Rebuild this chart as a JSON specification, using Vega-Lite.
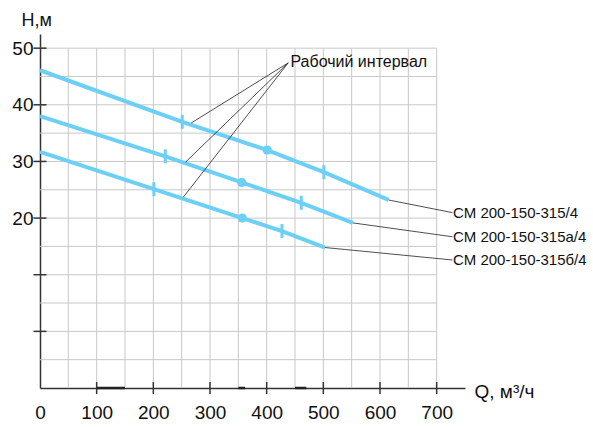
{
  "$schema": "https://vega.github.io/schema/vega-lite/v6.json",
  "width": 425,
  "height": 354,
  "autosize": {"type": "none"},
  "padding": {"left": 40, "top": 34, "right": 128, "bottom": 39},
  "background": "white",
  "config": {"view": {"stroke": null}, "font": "Liberation Sans"},
  "resolve": {"axis": {"x": "independent", "y": "independent"}},
  "datasets": {
    "curves": [
      {"s": "СМ 200-150-315/4", "q": 0, "h": 46.1},
      {"s": "СМ 200-150-315/4", "q": 251, "h": 37.0},
      {"s": "СМ 200-150-315/4", "q": 401, "h": 32.0},
      {"s": "СМ 200-150-315/4", "q": 501, "h": 28.1},
      {"s": "СМ 200-150-315/4", "q": 615, "h": 23.2},
      {"s": "СМ 200-150-315а/4", "q": 0, "h": 38.0},
      {"s": "СМ 200-150-315а/4", "q": 221, "h": 30.9},
      {"s": "СМ 200-150-315а/4", "q": 356, "h": 26.3},
      {"s": "СМ 200-150-315а/4", "q": 461, "h": 22.7},
      {"s": "СМ 200-150-315а/4", "q": 552, "h": 19.15},
      {"s": "СМ 200-150-315б/4", "q": 0, "h": 31.7},
      {"s": "СМ 200-150-315б/4", "q": 201, "h": 25.1},
      {"s": "СМ 200-150-315б/4", "q": 357, "h": 20.0},
      {"s": "СМ 200-150-315б/4", "q": 427, "h": 17.7},
      {"s": "СМ 200-150-315б/4", "q": 503, "h": 14.8}
    ],
    "marks": [
      {"s": "СМ 200-150-315/4", "k": "tick", "q": 251, "h": 37.0},
      {"s": "СМ 200-150-315/4", "k": "dot", "q": 401, "h": 32.0},
      {"s": "СМ 200-150-315/4", "k": "tick", "q": 501, "h": 28.1},
      {"s": "СМ 200-150-315а/4", "k": "tick", "q": 221, "h": 30.9},
      {"s": "СМ 200-150-315а/4", "k": "dot", "q": 356, "h": 26.3},
      {"s": "СМ 200-150-315а/4", "k": "tick", "q": 461, "h": 22.7},
      {"s": "СМ 200-150-315б/4", "k": "tick", "q": 201, "h": 25.1},
      {"s": "СМ 200-150-315б/4", "k": "dot", "q": 357, "h": 20.0},
      {"s": "СМ 200-150-315б/4", "k": "tick", "q": 427, "h": 17.7}
    ],
    "gv": [
      {"q": 50}, {"q": 100}, {"q": 150}, {"q": 200}, {"q": 250}, {"q": 300}, {"q": 350},
      {"q": 400}, {"q": 450}, {"q": 500}, {"q": 550}, {"q": 600}, {"q": 650}, {"q": 700}
    ],
    "gh": [
      {"h": -5}, {"h": 0}, {"h": 5}, {"h": 10}, {"h": 15}, {"h": 20}, {"h": 25},
      {"h": 30}, {"h": 35}, {"h": 40}, {"h": 45}, {"h": 50}
    ],
    "yt": [{"h": 0}, {"h": 10}, {"h": 20}, {"h": 30}, {"h": 40}, {"h": 50}],
    "xt": [{"q": 100}, {"q": 200}, {"q": 300}, {"q": 400}, {"q": 500}, {"q": 600}, {"q": 700}],
    "dashes": [
      {"q": 100, "q2": 150},
      {"q": 350, "q2": 362},
      {"q": 450, "q2": 470}
    ],
    "leaders": [
      {"q": 438, "h": 47.4, "q2": 267, "h2": 36.8},
      {"q": 438, "h": 47.4, "q2": 257, "h2": 29.9},
      {"q": 438, "h": 47.4, "q2": 253, "h2": 23.7},
      {"q": 615, "h": 23.2, "q2": 728, "h2": 20.96},
      {"q": 552, "h": 19.15, "q2": 728, "h2": 16.7},
      {"q": 503, "h": 14.8, "q2": 728, "h2": 12.6}
    ],
    "ann": [{"q": 442, "h": 46.6, "t": "Рабочий интервал"}],
    "leg": [
      {"q": 729, "h": 20.96, "t": "СМ 200-150-315/4"},
      {"q": 729, "h": 16.7, "t": "СМ 200-150-315а/4"},
      {"q": 729, "h": 12.6, "t": "СМ 200-150-315б/4"}
    ]
  },
  "layer": [
    {
      "data": {"name": "gv"},
      "mark": {"type": "rule", "color": "#c8c8c8", "strokeWidth": 1},
      "encoding": {
        "x": {"field": "q", "type": "quantitative", "scale": {"domain": [0, 750], "nice": false, "zero": false}, "axis": null},
        "y": {"datum": -10, "type": "quantitative", "scale": {"domain": [-10, 52.5], "nice": false, "zero": false}, "axis": null},
        "y2": {"datum": 50}
      }
    },
    {
      "data": {"name": "gh"},
      "mark": {"type": "rule", "color": "#c8c8c8", "strokeWidth": 1},
      "encoding": {
        "x": {"datum": 0, "type": "quantitative", "scale": {"domain": [0, 750], "nice": false, "zero": false}, "axis": null},
        "x2": {"datum": 700},
        "y": {"field": "h", "type": "quantitative", "scale": {"domain": [-10, 52.5], "nice": false, "zero": false}, "axis": null}
      }
    },
    {
      "data": {"name": "curves"},
      "mark": {"type": "line", "color": "#6ccff6", "strokeWidth": 4},
      "encoding": {
        "x": {
          "field": "q",
          "type": "quantitative",
          "scale": {"domain": [0, 750], "nice": false, "zero": false},
          "axis": {
            "values": [0, 100, 200, 300, 400, 500, 600, 700],
            "grid": false,
            "ticks": false,
            "domainColor": "#333333",
            "domainWidth": 1.5,
            "labelFontSize": 19,
            "labelColor": "#111111",
            "labelPadding": 15,
            "labelFlush": false,
            "labelOverlap": false,
            "title": "Q, м³/ч",
            "titleFontSize": 19,
            "titleFontWeight": "normal",
            "titleColor": "#111111",
            "titleAngle": 0,
            "titleAlign": "left",
            "titleBaseline": "alphabetic",
            "titleX": 434,
            "titleY": 9
          }
        },
        "y": {
          "field": "h",
          "type": "quantitative",
          "scale": {"domain": [-10, 52.5], "nice": false, "zero": false},
          "axis": {
            "values": [20, 30, 40, 50],
            "grid": false,
            "ticks": false,
            "domainColor": "#333333",
            "domainWidth": 1.5,
            "labelFontSize": 19,
            "labelColor": "#111111",
            "labelPadding": 7,
            "labelOverlap": false,
            "title": "Н,м",
            "titleFontSize": 18,
            "titleFontWeight": "normal",
            "titleColor": "#111111",
            "titleAngle": 0,
            "titleAlign": "left",
            "titleBaseline": "alphabetic",
            "titleX": -19,
            "titleY": -9
          }
        },
        "detail": {"field": "s"}
      }
    },
    {
      "data": {"name": "marks"},
      "transform": [{"filter": "datum.k === 'dot'"}],
      "mark": {"type": "point", "filled": true, "color": "#6ccff6", "size": 85, "opacity": 1},
      "encoding": {
        "x": {"field": "q", "type": "quantitative", "axis": null},
        "y": {"field": "h", "type": "quantitative", "axis": null}
      }
    },
    {
      "data": {"name": "marks"},
      "transform": [{"filter": "datum.k === 'tick'"}],
      "mark": {"type": "tick", "orient": "vertical", "color": "#6ccff6", "size": 14, "thickness": 3, "opacity": 1},
      "encoding": {
        "x": {"field": "q", "type": "quantitative", "axis": null},
        "y": {"field": "h", "type": "quantitative", "axis": null}
      }
    },
    {
      "data": {"name": "yt"},
      "mark": {"type": "tick", "orient": "horizontal", "color": "#333333", "size": 13, "thickness": 1.5, "opacity": 1},
      "encoding": {
        "x": {"datum": 0, "type": "quantitative", "axis": null},
        "y": {"field": "h", "type": "quantitative", "axis": null}
      }
    },
    {
      "data": {"name": "xt"},
      "mark": {"type": "tick", "orient": "vertical", "color": "#333333", "size": 12, "thickness": 1.5, "opacity": 1},
      "encoding": {
        "x": {"field": "q", "type": "quantitative", "axis": null},
        "y": {"datum": -10, "type": "quantitative", "axis": null}
      }
    },
    {
      "data": {"name": "dashes"},
      "mark": {"type": "rule", "color": "#222222", "strokeWidth": 2.5},
      "encoding": {
        "x": {"field": "q", "type": "quantitative", "axis": null},
        "x2": {"field": "q2"},
        "y": {"datum": -10, "type": "quantitative", "axis": null}
      }
    },
    {
      "data": {"name": "leaders"},
      "mark": {"type": "rule", "color": "#222222", "strokeWidth": 0.8},
      "encoding": {
        "x": {"field": "q", "type": "quantitative", "axis": null},
        "y": {"field": "h", "type": "quantitative", "axis": null},
        "x2": {"field": "q2"},
        "y2": {"field": "h2"}
      }
    },
    {
      "data": {"name": "ann"},
      "mark": {"type": "text", "align": "left", "baseline": "alphabetic", "fontSize": 16, "color": "#111111"},
      "encoding": {
        "x": {"field": "q", "type": "quantitative", "axis": null},
        "y": {"field": "h", "type": "quantitative", "axis": null},
        "text": {"field": "t"}
      }
    },
    {
      "data": {"name": "leg"},
      "mark": {"type": "text", "align": "left", "baseline": "middle", "fontSize": 15, "color": "#111111"},
      "encoding": {
        "x": {"field": "q", "type": "quantitative", "axis": null},
        "y": {"field": "h", "type": "quantitative", "axis": null},
        "text": {"field": "t"}
      }
    }
  ]
}
